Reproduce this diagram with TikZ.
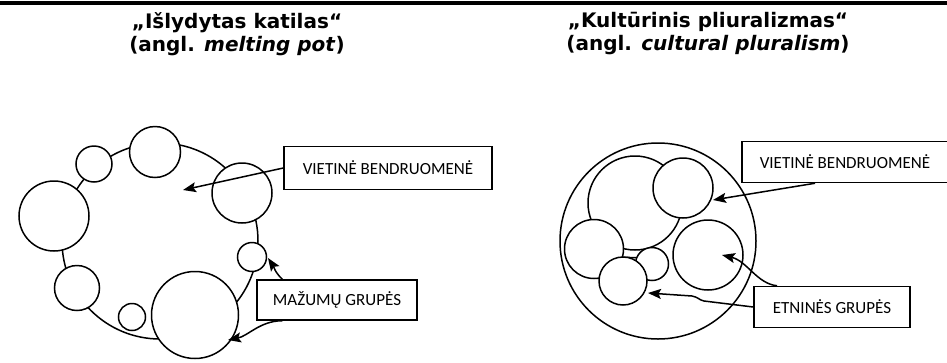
\documentclass[tikz,border=0pt]{standalone}
\usepackage{fontspec}
\setmainfont{Carlito}
\newfontfamily\titlefont{DejaVu Sans}
\usetikzlibrary{arrows.meta}
\usetikzlibrary{positioning}

\tikzset{
	grp/.style={circle,draw,fill=white,inner sep=0pt},
	ring/.style={circle,draw,inner sep=0pt},
	lbl/.style={draw,rectangle,inner sep=0pt,font=\fontsize{17}{20}\selectfont},
	ttl/.style={align=center,font=\titlefont\bfseries\fontsize{20}{23}\selectfont}
}

\begin{document}
\begin{tikzpicture}[x=1pt,y=-1pt,line width=1.5pt,>={Stealth[length=13pt,width=10pt,inset=2.5pt]}]
		\useasboundingbox (0,0) rectangle (947,362);
		\fill (0,1) rectangle (947,5);
		\node[ttl] (t1) at (237,34) {„Išlydytas katilas“\\(angl. \textit{melting pot})};
		\node[ttl] (t2) at (708,34) {„Kultūrinis pliuralizmas“\\(angl. \textit{cultural pluralism})};
		% melting pot
		\node[ring,minimum size=196pt] (pot) at (160,241) {};
		\node[grp,minimum size=36pt] (m1) at (94,164) {};
		\node[grp,minimum size=51pt] (m2) at (155,152) {};
		\node[grp,minimum size=70pt] (m3) at (54,216) {};
		\node[grp,minimum size=60pt] (m4) at (242,193) {};
		\node[grp,minimum size=29pt] (m5) at (252,257) {};
		\node[grp,minimum size=45pt] (m6) at (77,288) {};
		\node[grp,minimum size=27pt] (m7) at (132,317) {};
		\node[grp,minimum size=87pt] (m8) at (195,315) {};
		\node[lbl,minimum width=208pt,minimum height=43pt] (v1) at (388,168) {VIETINĖ BENDRUOMENĖ};
		\node[lbl,minimum width=160pt,minimum height=40pt] (mz) at (337,300) {MAŽUMŲ GRUPĖS};
		\coordinate (potin) at (183,190);
		\coordinate (mzup) at (268,258);
		\coordinate (mzdown) at (228,340);
		\draw[->] (v1.west) -- (potin);
		\draw[->] ([xshift=26pt]mz.north west) .. controls +(-8,-8) and +(6,9) .. (mzup);
		\draw[->] ([xshift=26pt]mz.south west) .. controls +(-22,0) and +(20,-4) .. (mzdown);
		% pluralism
		\node[ring,minimum size=196pt] (plur) at (658,241) {};
		\node[grp,minimum size=94pt] (comm) at (635,203) {};
		\draw (615,257) -- (645,258);
		\node[grp,minimum size=60pt] (e1) at (683,188) {};
		\node[grp,minimum size=59pt] (e2) at (594,249) {};
		\node[grp,minimum size=33pt] (e3) at (652,264) {};
		\node[grp,minimum size=48pt] (e4) at (623,281) {};
		\node[grp,minimum size=70pt] (e5) at (708,255) {};
		\node[lbl,minimum width=206pt,minimum height=41pt] (v2) at (845,162) {VIETINĖ BENDRUOMENĖ};
		\node[lbl,minimum width=156pt,minimum height=41pt] (et) at (832,307) {ETNINĖS GRUPĖS};
		\coordinate (vin) at (713,200);
		\coordinate (etup) at (722,255);
		\coordinate (etin) at (648,293);
		\draw[->] ([xshift=-30pt]v2.south) -- (vin);
		\draw[->] ([xshift=-55pt]et.north) .. controls +(-20,-2) and +(25,6) .. (etup);
		\draw[->] (et.west) -- (704,301) .. controls (699,300) and (698,297) .. (692,296) -- (etin);
\end{tikzpicture}
\end{document}
